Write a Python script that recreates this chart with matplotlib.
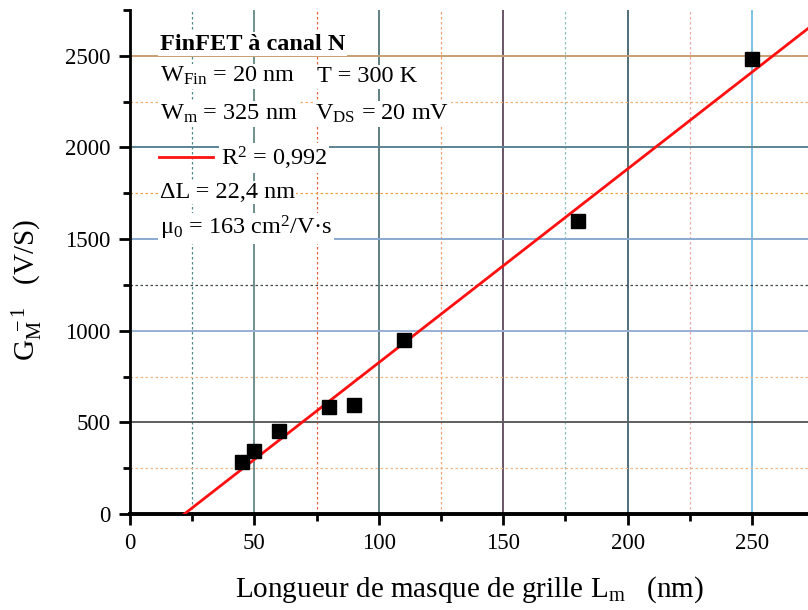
import numpy as np
import matplotlib
matplotlib.use("Agg")
import matplotlib.pyplot as plt
from matplotlib.lines import Line2D

plt.rcParams['font.family'] = ['Liberation Serif', 'DejaVu Serif']
plt.rcParams['mathtext.fontset'] = 'custom'
plt.rcParams['mathtext.rm'] = 'Liberation Serif'
plt.rcParams['mathtext.it'] = 'Liberation Serif:italic'
plt.rcParams['mathtext.bf'] = 'Liberation Serif:bold'

# gate mask length (nm) and inverse transconductance (V/S)
L_m = [45, 50, 60, 80, 90, 110, 180, 250]
G_inv = [285, 345, 455, 585, 595, 950, 1600, 2480]

x_ticks = [0, 50, 100, 150, 200, 250]
x_minor = [25, 75, 125, 175, 225]
y_ticks = [0, 500, 1000, 1500, 2000, 2500]
y_minor = [250, 750, 1250, 1750, 2250, 2750]

# grid colours, one per line (Origin style export)
vmaj_col = ['none', '#6f8f8f', '#5f7f80', '#6a5566', '#4f6f78', '#80c0e8']
vmin_col = ['#4f8a8a', '#e8603c', '#f4a070', '#8cc0bc', '#f0a8a8']
hmaj_col = ['none', '#5e5e5e', '#98b0d4', '#8aaad0', '#5c8494', '#c8a070']
hmin_col = ['#f0b888', '#f0b888', '#404848', '#f0a040', '#f0b070', 'none']

fig = plt.figure(figsize=(8.08, 6.10), dpi=100)
ax = fig.add_axes([130/808, 96/610, 678/808, 504/610])

# linear fit, drawn from the x intercept to the right edge
slope, icpt = np.polyfit(L_m, G_inv, 1)
x0 = -icpt / slope
xf = np.array([x0, 272.5])
ax.plot(xf, slope * xf + icpt, color='#ff1010', lw=2.0, zorder=4)
ax.plot(L_m, G_inv, 's', color='black', ms=9.5, zorder=5)

ax.set_xlim(0, 272.5)
ax.set_ylim(0, 2750)
ax.set_xticks(x_ticks)
ax.set_xticks(x_minor, minor=True)
ax.set_yticks(y_ticks)
ax.set_yticks(y_minor, minor=True)

ax.set_axisbelow(True)
ax.grid(True, which='major', lw=1.4)
ax.grid(True, which='minor', lw=0.9, ls=(0, (2, 2)))
for t, c in zip(ax.xaxis.get_major_ticks(), vmaj_col):
    t.gridline.set_color(c)
for t, c in zip(ax.xaxis.get_minor_ticks(), vmin_col):
    t.gridline.set_color(c)
for t, c in zip(ax.yaxis.get_major_ticks(), hmaj_col):
    t.gridline.set_color(c)
for t, c in zip(ax.yaxis.get_minor_ticks(), hmin_col):
    t.gridline.set_color(c)

for s in ['top', 'right']:
    ax.spines[s].set_visible(False)
ax.spines['left'].set_linewidth(2.0)
ax.spines['bottom'].set_linewidth(2.8)
ax.tick_params(which='major', direction='out', length=8, width=2, labelsize=16.5, pad=6)
ax.tick_params(which='minor', direction='out', length=5, width=2)

ax.set_xlabel(r'Longueur de masque de grille $\mathregular{L_m}$   (nm)', fontsize=21, labelpad=14)
ax.set_ylabel(r'$\mathregular{G_M^{\ -1}}$   (V/S)', fontsize=21)
ax.yaxis.set_label_coords(-0.125, 0.445)

fs = 17.5
bg = dict(facecolor='white', edgecolor='none', pad=1.0)
tx = 0.044
ax.text(tx, 0.921, 'FinFET à canal N', transform=ax.transAxes, fontsize=fs,
        fontweight='bold', va='baseline', bbox=bg, zorder=6)
ax.text(tx, 0.857, r'$\mathregular{W_{Fin}}$ = 20 nm', transform=ax.transAxes,
        fontsize=fs, va='baseline', bbox=bg, zorder=6)
ax.text(0.276, 0.857, 'T = 300 K', transform=ax.transAxes,
        fontsize=fs, va='baseline', bbox=bg, zorder=6)
ax.text(tx, 0.782, r'$\mathregular{W_m}$ = 325 nm', transform=ax.transAxes,
        fontsize=fs, va='baseline', bbox=bg, zorder=6)
ax.text(0.273, 0.782, r'$\mathregular{V_{DS}}$ = 20 mV', transform=ax.transAxes,
        fontsize=fs, va='baseline', bbox=bg, zorder=6)
ax.text(tx, 0.627, 'ΔL = 22,4 nm', transform=ax.transAxes,
        fontsize=fs, va='baseline', bbox=bg, zorder=6)
ax.text(tx, 0.554, r'$\mathregular{μ_0}$ = 163 $\mathregular{cm^2}$/V·s', transform=ax.transAxes,
        fontsize=fs, va='baseline', bbox=bg, zorder=6)

h = Line2D([], [], color='#ff1010', lw=2.0)
leg = ax.legend([h], [r'$\mathregular{R^2}$ = 0,992'], loc='center left',
                bbox_to_anchor=(0.028, 0.706), frameon=False, fontsize=fs,
                handlelength=2.25, handletextpad=0.3, borderaxespad=0)
for t in leg.get_texts():
    t.set_bbox(bg)
leg.set_zorder(6)

fig.savefig('out.png', dpi=100)
